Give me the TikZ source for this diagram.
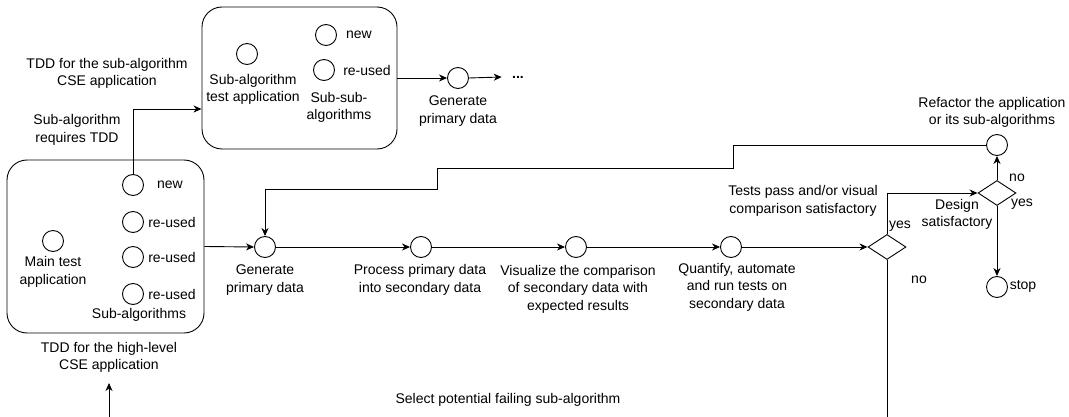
\documentclass[tikz,border=0pt]{standalone}
\usepackage{fontspec}
\setmainfont{Liberation Sans}
\usetikzlibrary{shapes.geometric,arrows.meta}
\begin{document}
\begin{tikzpicture}[x=1pt,y=-1pt,
  every node/.style={font=\fontsize{14}{17.5}\selectfont, inner sep=0pt, align=center},
  circ/.style={draw, circle, minimum size=21pt},
  dia/.style={draw, diamond, minimum width=38pt, minimum height=25pt},
  grp/.style={draw, rounded corners=20pt},
  arr/.style={-{Stealth[length=8pt,width=7pt,inset=2.5pt]}},
  line width=0.9pt]
\fill[white] (0,0) rectangle (1069,417);
\useasboundingbox (0,0) rectangle (1069,417);

% upper group (sub-algorithm)
\node[grp, minimum width=195pt, minimum height=142pt] (upbox) at (299.5,78) {};
\node[circ] (satc) at (247,54) {};
\node (satl) at (253,89.5) {Sub-algorithm\\test application};
\node[circ] (snew) at (326,35) {};
\node (snewl) at (359,35) {new};
\node[circ] (sreu) at (324,70) {};
\node (sreul) at (367,70) {re-used};
\node (ssub) at (339,107.5) {Sub-sub-\\algorithms};
\node[circ] (gen2) at (458,78) {};
\node (gen2l) at (458,111) {Generate\\primary data};
\node (dots) at (518,77) {\textbf{...}};
\node (tddsub) at (107,73.5) {TDD for the sub-algorithm\\CSE application};
\node (subreq) at (77,130) {Sub-algorithm\\requires TDD};

% main group
\node[grp, minimum width=197pt, minimum height=173pt] (mainbox) at (105.5,246.5) {};
\node[circ] (mtc) at (53,241) {};
\node (mtl) at (53,272) {Main test\\application};
\node[circ] (n1) at (133,185) {};
\node (n1l) at (170,185) {new};
\node[circ] (r1) at (133,222) {};
\node (r1l) at (172,222) {re-used};
\node[circ] (r2) at (133,257) {};
\node (r2l) at (172,257) {re-used};
\node[circ] (r3) at (133,294) {};
\node (r3l) at (172,294) {re-used};
\node (sal) at (139,315) {Sub-algorithms};
\node (tddhl) at (109,357.5) {TDD for the high-level\\CSE application};
\coordinate (bl) at (109,417);
\coordinate (tddin) at (109,383);

% main flow
\node[circ] (gen) at (265,247) {};
\node (genl) at (265,280) {Generate\\primary data};
\node[circ] (proc) at (421,247) {};
\node (procl) at (420,280) {Process primary data\\into secondary data};
\node[circ] (vis) at (576,247) {};
\node (visl) at (578,289) {Visualize the comparison\\of secondary data with\\expected results};
\node[circ] (quant) at (731,247) {};
\node (quantl) at (737,287) {Quantify, automate\\and run tests on\\secondary data};
\node[dia] (tests) at (887,247) {};
\node (testsl) at (803,201) {Tests pass and/or visual\\comparison satisfactory};
\node (yes1) at (900,226) {yes};
\node (no1) at (919,280) {no};
\coordinate (bot) at (887,417);

\node[dia] (design) at (997,193) {};
\node (designl) at (957,214.5) {Design\\satisfactory};
\node (no2) at (1017,178) {no};
\node (yes2) at (1022,204) {yes};
\node[circ] (refac) at (997,145) {};
\node (refacl) at (992,112.5) {Refactor the application\\or its sub-algorithms};
\node[circ] (stop) at (997,287) {};
\node (stopl) at (1023,286) {stop};

\node (sel) at (508,400) {Select potential failing sub-algorithm};

% connectors
\draw[arr] (n1.north) |- ([yshift=-31pt]upbox.west);
\draw[arr] (upbox.east) -- (gen2.west);
\draw[arr] (gen2.east) -- ([xshift=-10pt]dots.west);
\draw[arr] (bl) -- (tddin);
\draw[arr] (mainbox.east) -- (gen.west);
\draw[arr] (gen.east) -- (proc.west);
\draw[arr] (proc.east) -- (vis.west);
\draw[arr] (vis.east) -- (quant.west);
\draw[arr] (quant.east) -- (tests.west);
\draw[arr] (tests.north) |- (design.west);
\draw (tests.south) -- (bot);
\draw[arr] (design.north) -- (refac.south);
\draw[arr] (design.south) -- (stop.north);
\draw[arr] (refac.west) -- (733,145) -- (733,168) -- (437,168) -- (437,189) -- (265,189) -- (gen.north);
\end{tikzpicture}
\end{document}
